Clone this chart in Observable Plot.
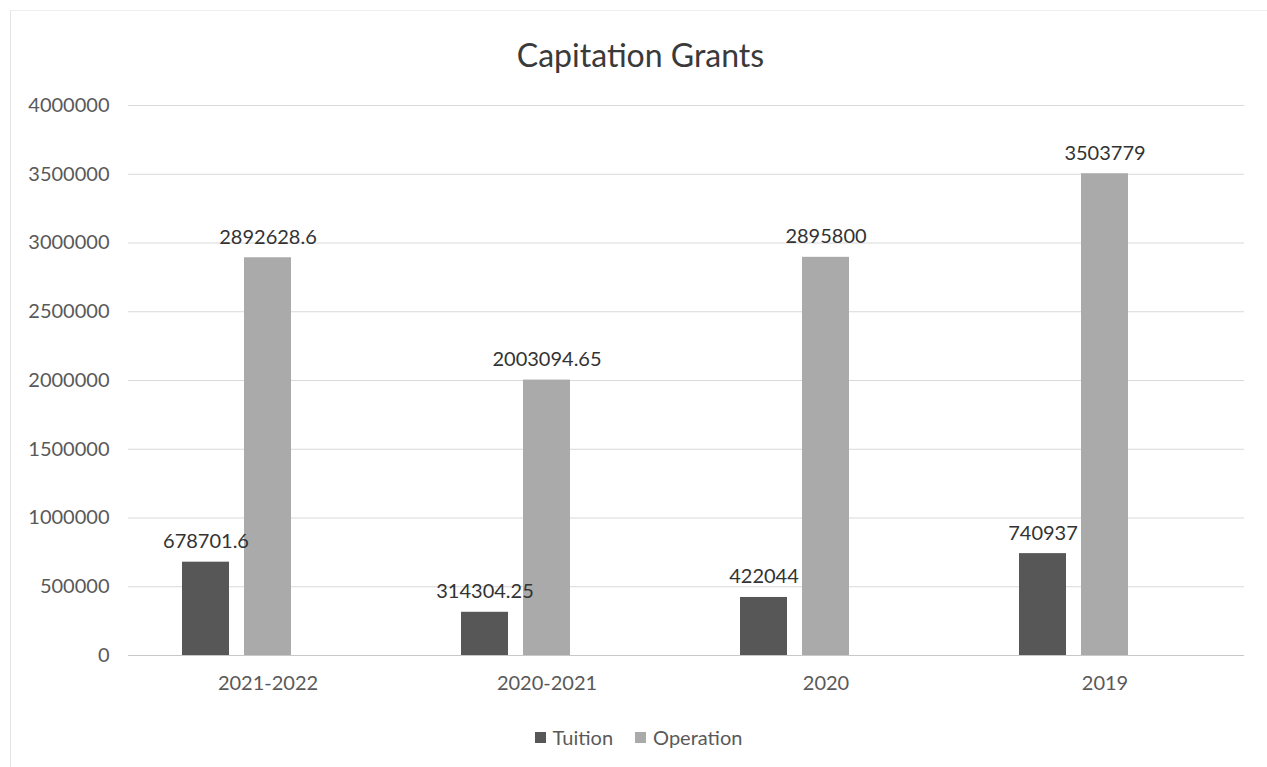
<!DOCTYPE html>
<html>
<head>
<meta charset="utf-8">
<script src="https://cdn.jsdelivr.net/npm/d3@7"></script>
<script src="https://cdn.jsdelivr.net/npm/@observablehq/plot@0.6"></script>
<style>
  html, body { margin: 0; padding: 0; background: #fff; }
  body { width: 1267px; height: 767px; position: relative; overflow: hidden; font-family: Lato, "Open Sans", sans-serif; }
  #frame { position: absolute; left: 10px; top: 10px; width: 1300px; height: 800px; border-left: 1px solid #e4e4e4; border-top: 1px solid #efefef; pointer-events: none; }
  #title { margin: 0; padding-top: 37px; padding-bottom: 7px; height: 36px; line-height: 36px; text-align: center; font-size: 32px; color: #3a3a3a; padding-left: 14px; }
  #legend { height: 54px; line-height: 54px; display: flex; justify-content: center; align-items: center; gap: 22px; font-size: 20px; color: #595959; padding-left: 10px; }
  #legend .item { display: flex; align-items: center; gap: 7px; }
  #legend .sw { width: 11px; height: 11px; display: inline-block; }
</style>
</head>
<body>
<div id="frame"></div>
<div id="title">Capitation Grants</div>
<div id="chart"></div>
<div id="legend"></div>
<script>
const categories = ["2021-2022", "2020-2021", "2020", "2019"];
const series = ["Tuition", "Operation"];
const tuition = [678701.6, 314304.25, 422044, 740937];
const operation = [2892628.6, 2003094.65, 2895800, 3503779];
const yTicks = [0, 500000, 1000000, 1500000, 2000000, 2500000, 3000000, 3500000, 4000000];
const colors = ["#575757", "#aaaaaa"];

const rows = [];
categories.forEach((c, i) => {
  rows.push({category: c, series: "Tuition", value: tuition[i]});
  rows.push({category: c, series: "Operation", value: operation[i]});
});

const chart = Plot.plot({
  width: 1267,
  height: 630,
  marginLeft: 127,
  marginRight: 22,
  marginTop: 25,
  marginBottom: 55,
  style: {fontFamily: "Lato, 'Open Sans', sans-serif", fontSize: "20px", color: "#595959", background: "transparent"},
  fx: {domain: categories, padding: 0, label: null, axis: "bottom", tickSize: 0, tickPadding: 20},
  x: {domain: [...series, " "], paddingInner: 0.24, paddingOuter: 0.87, axis: null},
  y: {domain: [0, 4000000], ticks: yTicks, tickFormat: d => String(d), tickSize: 0, tickPadding: 19, label: null},
  color: {domain: series, range: colors},
  marks: [
    Plot.gridY(yTicks, {stroke: "#d9d9d9", strokeOpacity: 1}),
    Plot.ruleY([0], {stroke: "#c8c8c8"}),
    Plot.barY(rows, {fx: "category", x: "series", y: "value", fill: "series"}),
    Plot.text(rows, {fx: "category", x: "series", y: "value", text: d => String(d.value), lineAnchor: "bottom", dy: -14, fontSize: 20, fill: "#333333"})
  ]
});
document.getElementById("chart").appendChild(chart);

const legend = document.getElementById("legend");
series.forEach((s, i) => {
  const item = document.createElement("span");
  item.className = "item";
  const sw = document.createElement("span");
  sw.className = "sw";
  sw.style.background = colors[i];
  const t = document.createElement("span");
  t.textContent = s;
  item.appendChild(sw);
  item.appendChild(t);
  legend.appendChild(item);
});
</script>
</body>
</html>
